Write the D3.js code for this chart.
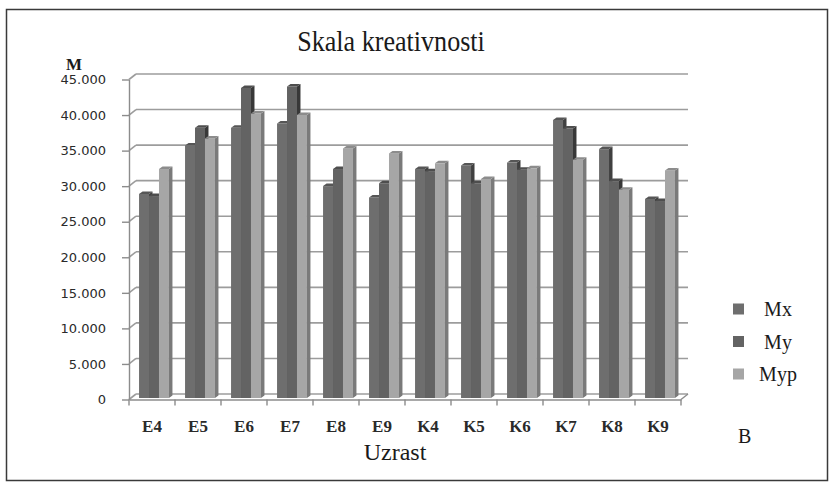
<!DOCTYPE html>
<html>
<head>
<meta charset="utf-8">
<script src="https://cdn.jsdelivr.net/npm/d3@7"></script>
<style>
    html, body { margin: 0; padding: 0; background: #fff; }
    svg { display: block; }
</style>
</head>
<body>
<div id="chart"></div>
<script>
// Data
const categories = ['E4', 'E5', 'E6', 'E7', 'E8', 'E9', 'K4', 'K5', 'K6', 'K7', 'K8', 'K9'];
const seriesNames = ['Mx', 'My', 'Myp'];
const mxValues = [28.7, 35.5, 38.0, 38.6, 29.8, 28.2, 32.2, 32.7, 33.1, 39.1, 35.0, 28.0];
const myValues = [28.4, 38.0, 43.6, 43.8, 32.2, 30.2, 31.9, 30.2, 32.1, 37.9, 30.5, 27.7];
const mypValues = [32.2, 36.5, 40.0, 39.8, 35.1, 34.4, 33.0, 30.8, 32.3, 33.5, 29.3, 32.0];
const yTicks = [0, 5, 10, 15, 20, 25, 30, 35, 40, 45];

const seriesValues = { Mx: mxValues, My: myValues, Myp: mypValues };

// Grey shades: front face, side face, top face
const shades = {
    Mx: { front: '#6e6e6e', side: '#404040', top: '#565656' },
    My: { front: '#636363', side: '#383838', top: '#4e4e4e' },
    Myp: { front: '#a6a6a6', side: '#7a7a7a', top: '#8c8c8c' },
};

const width = 832;
const height = 483;

// 3D look: offset of the back wall relative to the front plane
const DX = 7, DY = -5.5;
// bar depth and its position inside the box
const BAR_OFF_X = 2, BAR_OFF_Y = -1.5;
const BAR_DX = 3.5, BAR_DY = -2.5;

const svg = d3.select('#chart')
    .append('svg')
    .attr('width', width)
    .attr('height', height);

// Outer frame
svg.append('rect')
    .attr('x', 6.5)
    .attr('y', 9.5)
    .attr('width', 821)
    .attr('height', 471)
    .attr('fill', '#fff')
    .attr('stroke', '#3a3a3a')
    .attr('stroke-width', 1.5);

const x = d3.scaleBand()
    .domain(categories)
    .range([129, 681])
    .paddingInner(0.35)
    .paddingOuter(0.175);

const xs = d3.scaleBand()
    .domain(seriesNames)
    .range([0, x.bandwidth()]);

const y = d3.scaleLinear()
    .domain([0, 45])
    .range([399.5, 79.5]);

const x0 = x.range()[0];
const x1 = x.range()[1];

// Back wall gridlines and left wall diagonals
const grid = svg.append('g')
    .attr('stroke', '#9c9c9c')
    .attr('stroke-width', 1.6)
    .attr('fill', 'none');

grid.selectAll('line.back')
    .data(yTicks)
    .join('line')
    .attr('class', 'back')
    .attr('x1', x0 + DX)
    .attr('x2', x1 + DX)
    .attr('y1', d => y(d) + DY)
    .attr('y2', d => y(d) + DY);

grid.selectAll('line.side')
    .data(yTicks)
    .join('line')
    .attr('class', 'side')
    .attr('x1', x0)
    .attr('x2', x0 + DX)
    .attr('y1', d => y(d))
    .attr('y2', d => y(d) + DY);

// Floor: front edge and right diagonal
svg.append('line')
    .attr('x1', x1).attr('y1', y(0))
    .attr('x2', x1 + DX).attr('y2', y(0) + DY)
    .attr('stroke', '#8c8c8c')
    .attr('stroke-width', 1.4);

// Bars
const barsG = svg.append('g');
categories.forEach((cat, i) => {
    seriesNames.forEach(s => {
        const v = seriesValues[s][i];
        const bx = x(cat) + xs(s) + BAR_OFF_X;
        const bw = xs.bandwidth();
        const yTop = y(v) + BAR_OFF_Y;
        const yBase = y(0) + BAR_OFF_Y;
        const c = shades[s];

        // front face
        barsG.append('rect')
            .attr('x', bx)
            .attr('y', yTop)
            .attr('width', bw)
            .attr('height', yBase - yTop)
            .attr('fill', c.front);

        // right side face
        barsG.append('path')
            .attr('d', `M${bx + bw},${yTop} L${bx + bw + BAR_DX},${yTop + BAR_DY} L${bx + bw + BAR_DX},${yBase + BAR_DY} L${bx + bw},${yBase} Z`)
            .attr('fill', c.side);

        // top face
        barsG.append('path')
            .attr('d', `M${bx},${yTop} L${bx + BAR_DX},${yTop + BAR_DY} L${bx + bw + BAR_DX},${yTop + BAR_DY} L${bx + bw},${yTop} Z`)
            .attr('fill', c.top);
    });
});

// Y axis (front plane)
const yAxis = svg.append('g')
    .attr('transform', `translate(${x0},0)`)
    .call(d3.axisLeft(y)
        .tickValues(yTicks)
        .tickSize(7)
        .tickSizeOuter(0)
        .tickPadding(16)
        .tickFormat(d => d === 0 ? '0' : d3.format('.3f')(d)));

yAxis.selectAll('path, line')
    .attr('stroke', '#8c8c8c')
    .attr('stroke-width', 1.4);

yAxis.selectAll('text')
    .attr('fill', '#2a2a2a')
    .style('font-family', '"DejaVu Sans", sans-serif')
    .style('font-size', '13px');

// X axis (front plane)
const xAxis = svg.append('g')
    .attr('transform', `translate(0,${y(0)})`)
    .call(d3.axisBottom(x)
        .tickSize(0)
        .tickSizeOuter(0)
        .tickPadding(20));

xAxis.select('.domain')
    .attr('stroke', '#8c8c8c')
    .attr('stroke-width', 1.4);

xAxis.selectAll('text')
    .attr('fill', '#2a2a2a')
    .style('font-family', '"Liberation Serif", "Times New Roman", serif')
    .style('font-weight', 'bold')
    .style('font-size', '17px');

// Category boundary ticks
const boundaries = categories.map(c => x(c) + x.bandwidth() / 2 - x.step() / 2)
    .concat([x(categories[categories.length - 1]) + x.bandwidth() / 2 + x.step() / 2]);

xAxis.selectAll('line.bound')
    .data(boundaries)
    .join('line')
    .attr('class', 'bound')
    .attr('x1', d => d).attr('x2', d => d)
    .attr('y1', 0).attr('y2', 6)
    .attr('stroke', '#8c8c8c')
    .attr('stroke-width', 1.4);

// Titles and labels
const serif = '"Liberation Serif", "Times New Roman", serif';

svg.append('text')
    .attr('transform', 'translate(391,51) scale(0.9,1)')
    .attr('text-anchor', 'middle')
    .style('font-family', serif)
    .style('font-size', '29px')
    .attr('fill', '#1a1a1a')
    .text('Skala kreativnosti');

svg.append('text')
    .attr('x', 66)
    .attr('y', 70)
    .style('font-family', serif)
    .style('font-size', '17px')
    .style('font-weight', 'bold')
    .attr('fill', '#1a1a1a')
    .text('M');

svg.append('text')
    .attr('x', 395)
    .attr('y', 460)
    .attr('text-anchor', 'middle')
    .style('font-family', serif)
    .style('font-size', '24px')
    .attr('fill', '#1a1a1a')
    .text('Uzrast');

svg.append('text')
    .attr('x', 738)
    .attr('y', 443)
    .style('font-family', serif)
    .style('font-size', '20px')
    .attr('fill', '#1a1a1a')
    .text('B');

// Legend
const legendY = d3.scalePoint()
    .domain(seriesNames)
    .range([309, 374]);

const legend = svg.append('g')
    .selectAll('g')
    .data(seriesNames)
    .join('g')
    .attr('transform', d => `translate(733,${legendY(d)})`);

legend.append('rect')
    .attr('x', 0)
    .attr('y', -5.5)
    .attr('width', 11)
    .attr('height', 11)
    .attr('fill', d => shades[d].front);

legend.append('text')
    .attr('x', 45)
    .attr('y', 7)
    .attr('text-anchor', 'middle')
    .style('font-family', serif)
    .style('font-size', '20px')
    .attr('fill', '#1a1a1a')
    .text(d => d);
</script>
</body>
</html>
